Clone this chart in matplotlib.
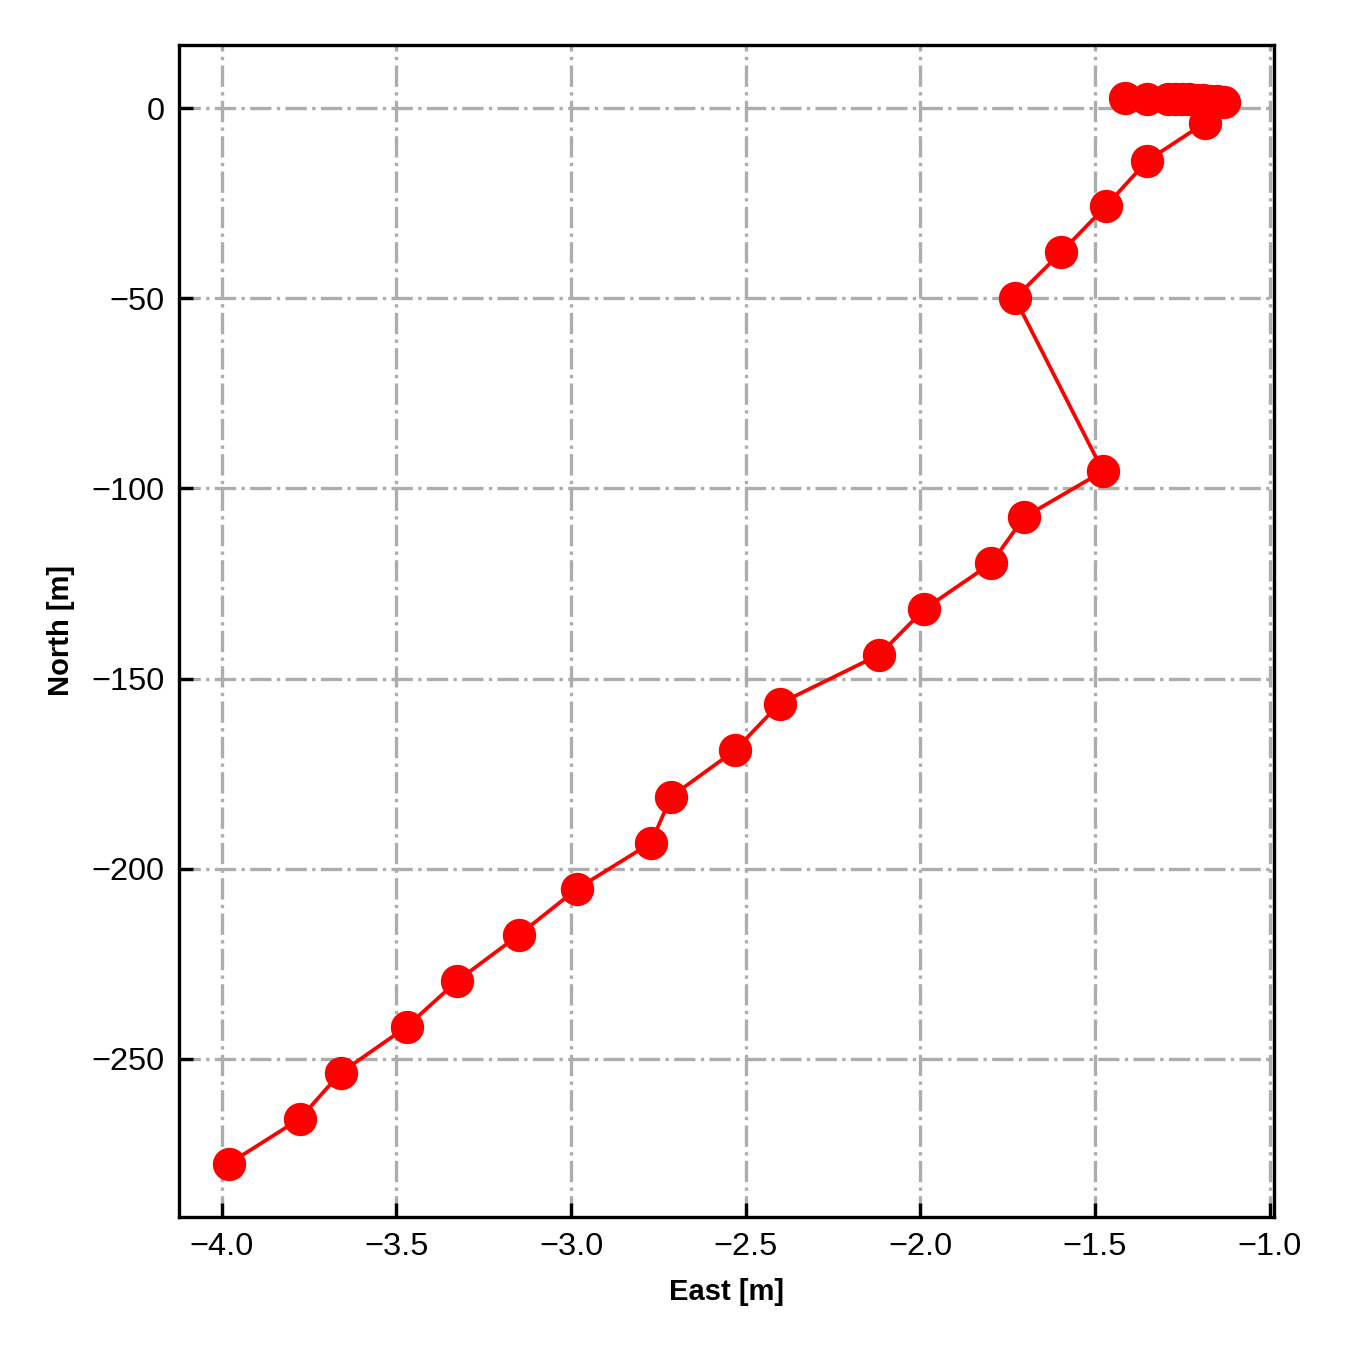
import matplotlib.pyplot as plt

plt.rcParams['font.family'] = ['Liberation Sans', 'DejaVu Sans']

# trajectory (east, north) in metres
east = [-3.98, -3.777, -3.66, -3.471, -3.326, -3.149, -2.983, -2.771, -2.714,
        -2.531, -2.403, -2.117, -1.989, -1.797, -1.703, -1.477, -1.729, -1.597,
        -1.469, -1.351, -1.186, -1.13, -1.15, -1.17, -1.19, -1.21, -1.23,
        -1.25, -1.27, -1.29, -1.35, -1.415]
north = [-277.6, -265.8, -253.7, -241.6, -229.5, -217.4, -205.3, -193.2, -181.1,
         -168.9, -156.6, -143.7, -131.8, -119.7, -107.6, -95.5, -50.0, -37.9,
         -25.8, -13.9, -3.9, 1.5, 1.8, 2.0, 2.1, 2.2, 2.3,
         2.4, 2.4, 2.5, 2.5, 2.6]

fig = plt.figure(figsize=(4.5, 4.5), dpi=300)
ax = fig.add_axes([0.1326, 0.0985, 0.8111, 0.8682])

ax.plot(east, north, color='red', lw=0.9, marker='o', ms=7, zorder=3)

ax.grid(True, linestyle='-.', color='#adadad', lw=0.8)
ax.set_xticks([-4.0, -3.5, -3.0, -2.5, -2.0, -1.5, -1.0])
ax.tick_params(direction='in', length=3.4, width=0.8, labelsize=7.8)
for s in ax.spines.values():
    s.set_linewidth(0.8)

ax.set_xlabel('East [m]', fontsize=7, fontweight='bold')
ax.set_ylabel('North [m]', fontsize=7, fontweight='bold')

fig.savefig('out.png', dpi=300)
